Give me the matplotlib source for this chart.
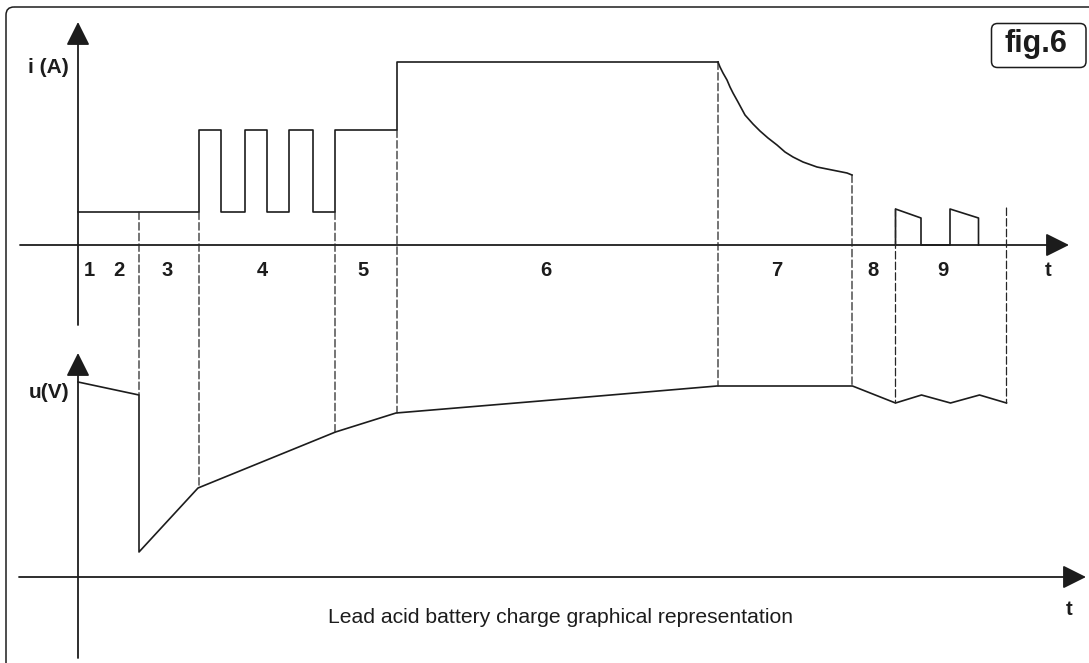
import numpy as np
import matplotlib
matplotlib.use("Agg")
import matplotlib.pyplot as plt
from matplotlib.patches import FancyBboxPatch, ConnectionPatch

# =========================
# DATA (t in time units, origin at the axes crossing)
# =========================
# current, stages 1-6 (step shaped)
step_t = [0, 121, 143, 167, 189, 211, 235, 257, 319, 640]
step_i = [33, 115, 33, 115, 33, 115, 33, 115, 183, 183]

# current, stage 7 decay
decay_t = [640, 642, 645, 649, 652, 655, 660, 667, 675, 682, 690, 699,
           707, 715, 725, 739, 749, 759, 769, 774]
decay_i = [183, 178, 172, 165, 158, 152, 143, 130, 121, 114, 107, 100,
           93, 88, 83, 78, 76, 74, 72, 70]

# current, stage 9 pulses
pulse_t = [817.5, 817.5, 843, 843, 872, 872, 900.5, 900.5]
pulse_i = [0, 36, 27, 0, 0, 36, 27, 0]

# voltage
volt_t = [0, 61, 61, 120, 257.5, 318, 462, 639, 774.5, 817.5, 843.5, 872.5, 901.5, 928.5]
volt_u = [195, 182, 25, 89, 145, 164, 176, 191, 191, 174, 182, 174, 182, 174]

# stage boundaries (dashed)
bound_t = [61, 121, 257, 319, 640, 774, 817.5, 928.5]
bound_i = [33, 33, 33, 115, 183, 70, 36, 37]
bound_u = [182, 89, 145, 164, 191, 191, 174, 174]

# stage numbers
stage_names = ["1", "2", "3", "4", "5", "6", "7", "8", "9"]
stage_x = [11, 41, 89, 184, 285, 468, 699, 795, 865]

ink = "#1c1c1c"
plt.rcParams["font.family"] = ["Liberation Sans", "DejaVu Sans"]

# =========================
# FIGURE + AXES
# =========================
W, H = 1089, 663
fig = plt.figure(figsize=(W / 100, H / 100), dpi=100)
fig.patch.set_facecolor("white")

ax_bg = fig.add_axes([0, 0, 1, 1])
ax_bg.set_xlim(0, W)
ax_bg.set_ylim(H, 0)
ax_bg.axis("off")

# origin of current axes at pixel (78, 245), voltage axes at (78, 577)
ax_i = fig.add_axes([0, 0, 1, 1])
ax_i.set_xlim(-78, W - 78)
ax_i.set_ylim(245 - H, 245)
ax_i.axis("off")
ax_i.patch.set_alpha(0)

ax_u = fig.add_axes([0, 0, 1, 1])
ax_u.set_xlim(-78, W - 78)
ax_u.set_ylim(577 - H, 577)
ax_u.axis("off")
ax_u.patch.set_alpha(0)

# frame
ax_bg.add_patch(FancyBboxPatch((6, 7), 1110, 690, boxstyle="round,pad=0,rounding_size=8",
                               fc="none", ec=ink, lw=1.1))

# fig.6 badge
ax_bg.add_patch(FancyBboxPatch((991.5, 23.5), 94.5, 44, boxstyle="round,pad=0,rounding_size=6",
                               fc="white", ec=ink, lw=1.1))
ax_bg.text(1036, 52, "fig.6", ha="center", va="baseline", fontsize=22,
           fontweight="bold", color=ink)

# =========================
# AXES ARROWS
# =========================
arrow = dict(arrowstyle="-|>,head_length=1.44,head_width=0.72", lw=1.3, color=ink,
             mutation_scale=10, shrinkA=0, shrinkB=0)
ax_i.annotate("", xy=(0, 223), xytext=(0, -80), arrowprops=arrow)
ax_i.annotate("", xy=(991, 0), xytext=(-58, 0), arrowprops=arrow)
ax_u.annotate("", xy=(0, 224), xytext=(0, -81), arrowprops=arrow)
ax_u.annotate("", xy=(1008, 0), xytext=(-59, 0), arrowprops=arrow)

ax_i.text(-9, 172, "i (A)", ha="right", va="baseline", fontsize=15, fontweight="bold", color=ink)
ax_u.text(-9, 179, "u(V)", ha="right", va="baseline", fontsize=15, fontweight="bold", color=ink)
ax_i.text(970, -31, "t", ha="center", va="baseline", fontsize=14.5, fontweight="bold", color=ink)
ax_u.text(991, -38, "t", ha="center", va="baseline", fontsize=14.5, fontweight="bold", color=ink)

for name, x in zip(stage_names, stage_x):
    ax_i.text(x, -31, name, ha="center", va="baseline", fontsize=14.5,
              fontweight="bold", color=ink)

# =========================
# TRACES
# =========================
ax_i.plot(step_t, step_i, drawstyle="steps-post", color=ink, lw=1.2)
ax_i.plot(decay_t, decay_i, color=ink, lw=1.2)
ax_i.plot(pulse_t, pulse_i, color=ink, lw=1.2)
ax_u.plot(volt_t, volt_u, color=ink, lw=1.2)

# stage boundaries from current trace down to voltage trace
for t, i, u in zip(bound_t, bound_i, bound_u):
    con = ConnectionPatch(xyA=(t, i), coordsA=ax_i.transData,
                          xyB=(t, u), coordsB=ax_u.transData,
                          color="#262626", lw=0.9, linestyle=(0, (6, 2.5)))
    fig.add_artist(con)

ax_bg.text(561, 623.3, "Lead acid battery charge graphical representation",
           ha="center", va="baseline", fontsize=15.2, color=ink)

fig.savefig("out.png", dpi=100, facecolor="white")
